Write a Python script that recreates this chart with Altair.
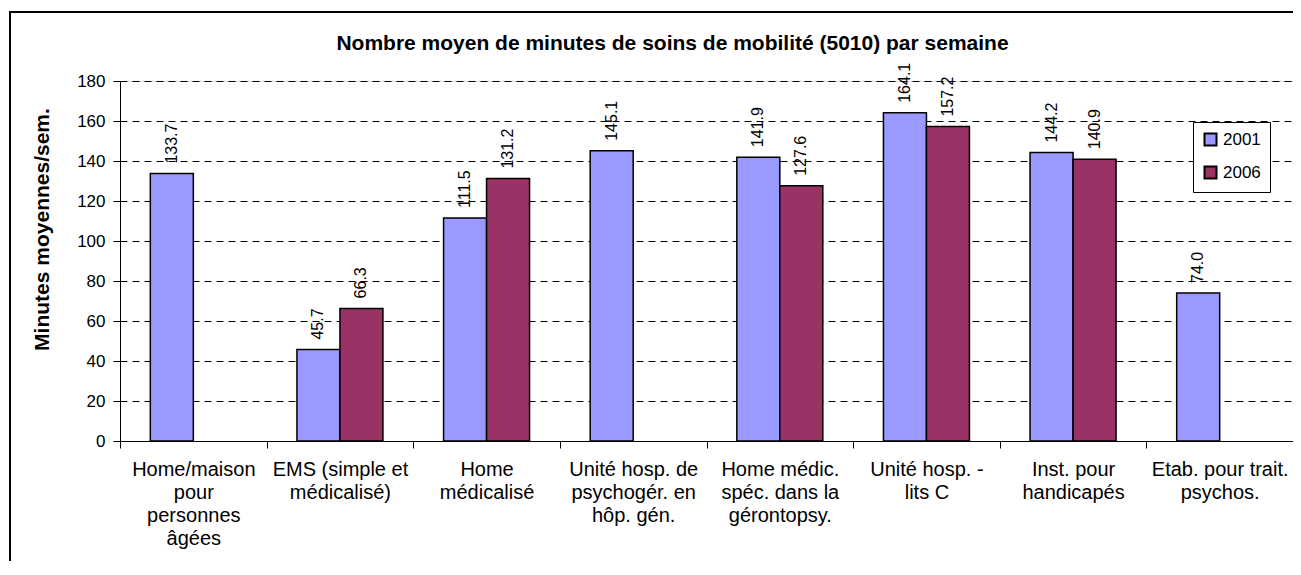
import altair as alt
import pandas as pd

categories = [
    "Home/maison|pour|personnes|âgées",
    "EMS (simple et|médicalisé)",
    "Home|médicalisé",
    "Unité hosp. de|psychogér. en|hôp. gén.",
    "Home médic.|spéc. dans la|gérontopsy.",
    "Unité hosp. -|lits C",
    "Inst. pour|handicapés",
    "Etab. pour trait.|psychos.",
]
series = ["2001", "2006"]
values_2001 = [133.7, 45.7, 111.5, 145.1, 141.9, 164.1, 144.2, 74.0]
values_2006 = [None, 66.3, 131.2, None, 127.6, 157.2, 140.9, None]
y_ticks = [0, 20, 40, 60, 80, 100, 120, 140, 160, 180]
colors = ["#9999FF", "#993366"]

rows = []
for c, a, b in zip(categories, values_2001, values_2006):
    if a is not None:
        rows.append({"cat": c, "year": "2001", "val": a})
    if b is not None:
        rows.append({"cat": c, "year": "2006", "val": b})
df = pd.DataFrame(rows)

FONT = "Liberation Sans"
W, H = 1173, 360

x_enc = alt.X(
    "cat:N",
    sort=categories,
    scale=alt.Scale(paddingInner=0, paddingOuter=0),
    axis=alt.Axis(
        title=None,
        labelAngle=0,
        labelExpr="split(datum.label, '|')",
        labelFont=FONT,
        labelFontSize=20,
        labelLineHeight=23,
        labelPadding=11,
        labelColor="black",
        labelLimit=220,
        labelOverlap=False,
        tickBand="extent",
        tickSize=7,
        tickColor="black",
        domainColor="black",
        domainWidth=1,
    ),
)
xo_enc = alt.XOffset(
    "year:N", scale=alt.Scale(domain=series, paddingInner=0, paddingOuter=0.705)
)
y_enc = alt.Y(
    "val:Q",
    scale=alt.Scale(domain=[0, 180], nice=False),
    axis=alt.Axis(
        values=y_ticks,
        title="Minutes moyennes/sem.",
        titleFont=FONT,
        titleFontSize=21,
        titleFontWeight="bold",
        titleColor="black",
        titleAngle=270,
        titleAlign="center",
        titleBaseline="middle",
        titleX=-78,
        titleY=148,
        labelFont=FONT,
        labelFontSize=17,
        labelColor="black",
        labelPadding=8,
        labelOverlap=False,
        labelBound=False,
        tickSize=7,
        tickColor="black",
        domainColor="black",
        grid=True,
        gridColor="black",
        gridDash=[7, 5],
        gridOpacity=1,
        gridWidth=1,
    ),
)

frame = (
    alt.Chart(pd.DataFrame({"d": [0]}))
    .mark_rect(fillOpacity=0, stroke="black", strokeWidth=2)
    .encode(
        x=alt.value(-110),
        x2=alt.value(W + 100),
        y=alt.value(-69),
        y2=alt.value(H + 300),
    )
)

bars = (
    alt.Chart(df)
    .mark_bar(stroke="black", strokeWidth=1.5)
    .encode(
        x=x_enc,
        xOffset=xo_enc,
        y=y_enc,
        color=alt.Color(
            "year:N",
            scale=alt.Scale(domain=series, range=colors),
            legend=alt.Legend(
                title=None,
                orient="none",
                legendX=1073,
                legendY=41,
                strokeColor="black",
                fillColor="white",
                padding=9,
                symbolType="square",
                symbolSize=144,
                symbolStrokeColor="black",
                symbolStrokeWidth=2,
                labelFont=FONT,
                labelFontSize=17,
                labelColor="black",
                labelOffset=4,
                rowPadding=12,
            ),
        ),
    )
)

labels = (
    alt.Chart(df)
    .mark_text(angle=270, align="left", baseline="middle", dx=10, fontSize=16, font=FONT, color="black")
    .encode(
        x=x_enc,
        xOffset=xo_enc,
        y=y_enc,
        text=alt.Text("val:Q", format=".1f"),
    )
)

chart = (
    alt.layer(frame, bars, labels)
    .properties(
        width=W,
        height=H,
        autosize=alt.AutoSizeParams(type="none"),
        padding={"left": 112, "top": 73, "right": 0, "bottom": 120},
        title=alt.Title(
            "Nombre moyen de minutes de soins de mobilité (5010) par semaine",
            font=FONT,
            fontSize=21,
            fontWeight="bold",
            color="black",
            anchor="middle",
            dx=-34,
            offset=0,
            dy=43,
        ),
    )
    .configure_view(stroke="transparent")
    .configure(background="white")
)

chart.save("out.html", embed_options={"renderer": "svg", "actions": False})
